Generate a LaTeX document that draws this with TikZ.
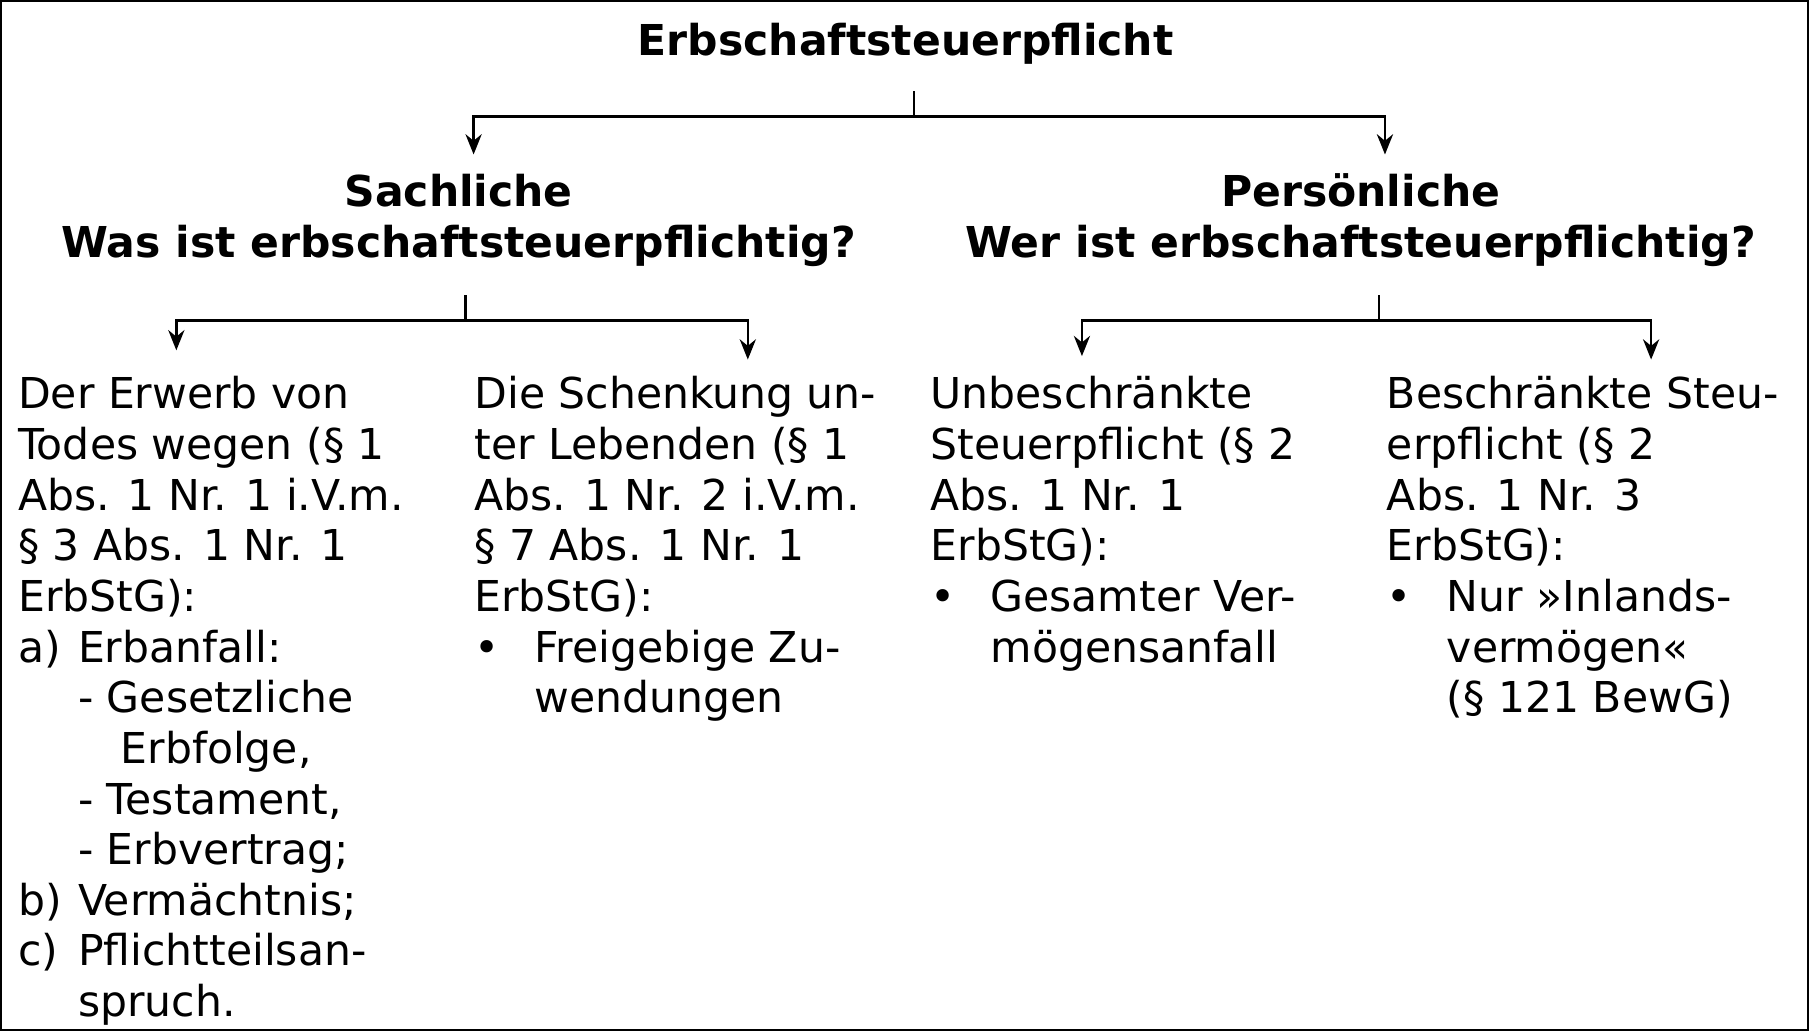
\documentclass[tikz,border=0pt]{standalone}
\usepackage{fontspec}
\setmainfont{DejaVu Sans}
\usetikzlibrary{arrows.meta}
\tikzset{head/.style={font=\fontsize{10.5}{12.5}\selectfont\bfseries, align=center},
  col/.style={font=\fontsize{10.5}{12.5}\selectfont, align=left, anchor=north west, inner sep=0pt},
  conn/.style={-{Stealth[length=5pt,width=4pt]}, semithick}}
\newcommand{\ind}{\hspace*{0.52cm}}
\begin{document}
\begin{tikzpicture}[x=0.01cm,y=-0.01cm]
\draw[semithick] (0,0) rectangle (1568,893);

\node[head] (root) at (785,37) {Erbschaftsteuerpflicht};
\node[head] (sach) at (397,190) {Sachliche\\Was ist erbschaftsteuerpflichtig?};
\node[head] (pers) at (1180,190) {Persönliche\\Wer ist erbschaftsteuerpflichtig?};

\coordinate (r1) at (792,78);
\coordinate (r2) at (792,100);
\draw[semithick] (r1) -- (r2);
\draw[conn] (r2) -| (410,133);
\draw[conn] (r2) -| (1201,133);

\coordinate (s1) at (403,255);
\coordinate (s2) at (403,277);
\draw[semithick] (s1) -- (s2);
\draw[conn] (s2) -| (152,303);
\draw[conn] (s2) -| (648,311);

\coordinate (p1) at (1196,255);
\coordinate (p2) at (1196,277);
\draw[semithick] (p1) -- (p2);
\draw[conn] (p2) -| (938,308);
\draw[conn] (p2) -| (1432,311);

\node[col] (erwerb) at (14,325) {Der Erwerb von\\Todes wegen (§ 1\\Abs. 1 Nr. 1 i.V.m.\\§ 3 Abs. 1 Nr. 1\\ErbStG):\\
\makebox[0.52cm][l]{a)}Erbanfall:\\\ind- Gesetzliche\\\ind\hspace*{0.37cm}Erbfolge,\\\ind- Testament,\\\ind- Erbvertrag;\\
\makebox[0.52cm][l]{b)}Vermächtnis;\\\makebox[0.52cm][l]{c)}Pflichtteilsan-\\\ind spruch.};
\node[col] (schenk) at (410,325) {Die Schenkung un-\\ter Lebenden (§ 1\\Abs. 1 Nr. 2 i.V.m.\\§ 7 Abs. 1 Nr. 1\\ErbStG):\\
\makebox[0.52cm][l]{•}Freigebige Zu-\\\ind wendungen};
\node[col] (unbe) at (806,325) {Unbeschränkte\\Steuerpflicht (§ 2\\Abs. 1 Nr. 1\\ErbStG):\\
\makebox[0.52cm][l]{•}Gesamter Ver-\\\ind mögensanfall};
\node[col] (besch) at (1202,325) {Beschränkte Steu-\\erpflicht (§ 2\\Abs. 1 Nr. 3\\ErbStG):\\
\makebox[0.52cm][l]{•}Nur »Inlands-\\\ind vermögen«\\\ind(§ 121 BewG)};
\end{tikzpicture}
\end{document}
